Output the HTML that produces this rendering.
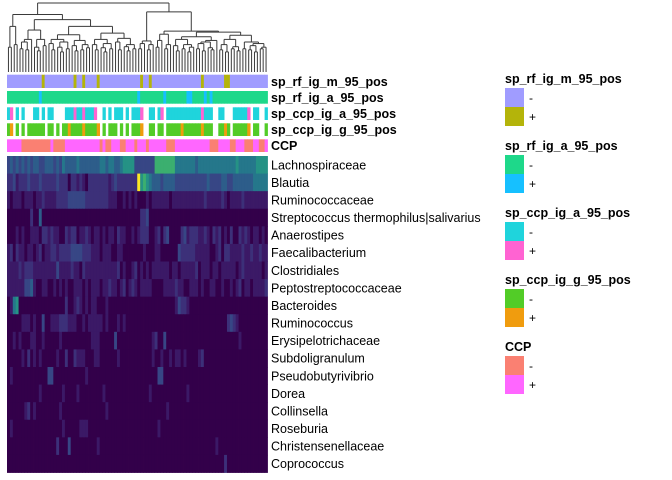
<!DOCTYPE html>
<html><head><meta charset="utf-8"><style>
body{margin:0;background:#fff;}
svg{display:block;font-family:"Liberation Sans",sans-serif;}
</style></head><body>
<svg id="c" width="672" height="480"></svg>
<script>
const rowNames=["Lachnospiraceae","Blautia","Ruminococcaceae","Streptococcus thermophilus|salivarius","Anaerostipes","Faecalibacterium","Clostridiales","Peptostreptococcaceae","Bacteroides","Ruminococcus","Erysipelotrichaceae","Subdoligranulum","Pseudobutyrivibrio","Dorea","Collinsella","Roseburia","Christensenellaceae","Coprococcus"];
const rowValues=[
"3434343434"+"4334443435"+"4444544444"+"4455455445"+"6666333333"+"3777777755"+"5555545555"+"5555555556"+"5555556666",
"2231222322"+"2322222322"+"2022121022"+"2222212322"+"2222296765"+"4443444433"+"3333333334"+"3333443344"+"4444455555",
"1011101110"+"1121111222"+"2333333222"+"2222211100"+"1010100010"+"1111110111"+"1111111121"+"1111210111"+"1211111111",
"0000000020"+"0400000000"+"0000000000"+"0000000000"+"0000002230"+"0000000000"+"0000000000"+"0000000000"+"0000000000",
"0001010011"+"1022121100"+"2122011210"+"1101011021"+"1001012220"+"0120230000"+"2312221121"+"0212010200"+"2121011010",
"1202110110"+"1201122122"+"2233332221"+"1101110011"+"0000000100"+"0110000003"+"2222211111"+"0012022111"+"1211211211",
"1111212221"+"1111111311"+"1121102111"+"1111111120"+"1001201010"+"1111110110"+"1111120111"+"0110111110"+"1211111101",
"1111113341"+"0011001010"+"1001110101"+"1101121101"+"2012101111"+"0000111121"+"1001110100"+"1100100101"+"2011011112",
"0156000000"+"0000000000"+"2001210101"+"1000100000"+"0000000000"+"0000000013"+"2210000000"+"0000000000"+"0000000000",
"0000011101"+"0030011122"+"2111001011"+"1110100010"+"1000000000"+"0000000000"+"0000000000"+"0000002321"+"0000000000",
"0010100011"+"0010000010"+"0000000001"+"1100000300"+"0000000000"+"1200300000"+"0000000000"+"0000000000"+"1000000000",
"0000010201"+"0100000100"+"2002111000"+"1100000010"+"0000000000"+"1001001011"+"0100001200"+"0000000000"+"0000000000",
"0100000000"+"0000330000"+"0000000100"+"0000000000"+"0000000000"+"0033000000"+"0000000000"+"0000000000"+"0000000000",
"0000000000"+"0100000001"+"0000100000"+"0001000000"+"0000000001"+"0000000000"+"0010000000"+"0000000000"+"0000000000",
"0000001201"+"0000000010"+"0000000000"+"0000100000"+"0000000000"+"0000010000"+"0000000000"+"0000000000"+"0000000000",
"0100000000"+"0000000001"+"0000011100"+"0000000000"+"0000000000"+"0010000000"+"0000000000"+"0000000000"+"0000000000",
"0000000000"+"0000000200"+"0300000000"+"0100000000"+"0000000000"+"0000000000"+"0000000000"+"0010000000"+"0000000000",
"0000000000"+"0000000000"+"0000000000"+"0000000000"+"0000000000"+"0000000000"+"0000000000"+"0000020000"+"0000000000"
];
const annoNames=["sp_rf_ig_m_95_pos","sp_rf_ig_a_95_pos","sp_ccp_ig_a_95_pos","sp_ccp_ig_g_95_pos","CCP"];
const annoM="----------"+"--+-------"+"---+--+---"+"-+--------"+"------+--+"+"----------"+"-------+--"+"-----++---"+"----------";
const annoA="----------"+"-+--------"+"----------"+"----------"+"-----+----"+"----+-----"+"--++----+-"+"+---------"+"----------";
const annoCA="-+ - -   -"+"- - --    "+"---+--+---"+"+  - - ---"+" - ---+  -"+"- -+ -----"+"-------+--"+"-  --   --"+"---+ --  -";
const annoCG="-+ - - ---"+"--- -- - -"+"-+----+---"+"-+ - --- -"+" - ---+  -"+"- -- -----"+"+------+--"+"-  --+- --"+"---+ --  -";
const annoCCP="+++++-----"+"-----+----"+"++++++++++"+"++-+--+++-"+"-+++-+++-+"+"+++++---++"+"++++++++++"+"---++++--+"+"++---++--+";
const legendTitles=annoNames;
const legendLevels=["-","+"];
const annoColors=[["#a09cff","#b4b40a"],["#1ed88a","#16c0ff"],["#1fd4dc","#ff63d2"],["#52cc27","#f09c0e"],["#fa8072","#ff66ff"]];
const gaps=[0.15,0.55,0.2,0.78,0.12,0.25,0.1,0.3,0.48,0.15,0.08,0.3,0.18,0.68,0.22,0.1,0.3,0.15,0.06,0.25,0.12,0.39,0.18,0.08,0.28,0.1,0.2,0.14,0.55,0.2,0.1,0.3,0.14,0.06,0.22,0.12,0.42,0.25,0.1,0.32,0.16,0.08,0.2,0.12,1.0,0.12,0.22,0.27,0.1,0.2,0.83,0.15,0.28,0.4,0.12,0.2,0.46,0.18,0.08,0.3,0.12,0.2,0.06,0.15,0.35,0.12,0.22,0.08,0.25,0.14,0.1,0.28,0.44,0.1,0.2,0.06,0.3,0.12,0.16,0.08,0.38,0.12,0.25,0.1,0.18,0.06,0.22,0.12,0.15];

const NS="http://www.w3.org/2000/svg";
const svg=document.getElementById('c');
const N=90, X0=7, X1=267.5, cw=(X1-X0)/N;
const HY0=156, HY1=472.5, rh=(HY1-HY0)/rowNames.length;
const xs=i=>X0+i*cw;
const stops=[[0,"#33004a"],[0.15,"#3e2270"],[0.3,"#3a3f83"],[0.45,"#2d5e8a"],[0.6,"#22818c"],[0.72,"#27a07f"],[0.85,"#55c15a"],[1,"#fde725"]];
function hex(h){return [1,3,5].map(i=>parseInt(h.substr(i,2),16));}
function col(v){for(let i=1;i<stops.length;i++){if(v<=stops[i][0]){const a=stops[i-1],b=stops[i];const t=(v-a[0])/(b[0]-a[0]);const ca=hex(a[1]),cb=hex(b[1]);return "rgb("+ca.map((c,k)=>Math.round(c+(cb[k]-c)*t)).join(",")+")";}}return stops[stops.length-1][1];}
function mk(tag,attrs,parent){const e=document.createElementNS(NS,tag);for(const k in attrs)e.setAttribute(k,attrs[k]);(parent||svg).appendChild(e);return e;}

const hm=mk('g',{});


rowValues.forEach((s,r)=>{
  for(let i=0;i<N;i++){
    const v=parseInt(s[i])/9;
    const e=mk('rect',{x:xs(i),y:HY0+r*rh,width:cw+0.4,height:rh+0.4,fill:col(v)},hm);
    
    
  }
  const t=mk('text',{x:271,y:HY0+(r+0.5)*rh+4.5,'font-size':12.5,fill:'#000'});
  t.textContent=rowNames[r];
  
  
});

const annoStr=[annoM,annoA,annoCA,annoCG,annoCCP];
const annoY=[[74.7,88],[91,103.7],[107.3,120],[123.3,136],[139.3,152]];
annoStr.forEach((s,a)=>{
  const g=mk('g',{});
  
  
  for(let i=0;i<N;i++){
    const ch=s[i];if(ch===' '||ch===undefined)continue;
    const e=mk('rect',{x:xs(i),y:annoY[a][0],width:cw+0.4,height:annoY[a][1]-annoY[a][0],fill:annoColors[a][ch==='+'?1:0]},g);
    
    
  }
  const t=mk('text',{x:271,y:(annoY[a][0]+annoY[a][1])/2+4.5,'font-size':12.5,'font-weight':'bold'});
  t.textContent=annoNames[a];
  
  
});

const dg=mk('g',{stroke:'#3a3a3a','stroke-width':1,fill:'none'});


const yh=h=>h===0?72:55-h*52;
function line(x1,y1,x2,y2){const e=mk('line',{x1,y1,x2,y2},dg);}
function node(lo,hi){
  if(lo===hi)return {x:xs(lo)+cw/2,h:0};
  let k=lo;for(let i=lo;i<hi;i++)if(gaps[i]>gaps[k])k=i;
  const l=node(lo,k),r=node(k+1,hi),h=gaps[k];
  line(l.x,yh(l.h),l.x,yh(h));line(r.x,yh(r.h),r.x,yh(h));line(l.x,yh(h),r.x,yh(h));
  return {x:(l.x+r.x)/2,h};
}
node(0,N-1);

legendTitles.forEach((tt,g)=>{
  const lg=mk('g',{});
  
  
  const base=67*g;
  const t=mk('text',{x:505,y:83+base,'font-size':12.5,'font-weight':'bold'},lg);
  t.textContent=tt;
  
  
  legendLevels.forEach((lv,j)=>{
    const r=mk('rect',{x:505,y:88+base+j*19,width:19,height:19,fill:annoColors[g][j]},lg);
    
    
    const tx=mk('text',{x:529,y:102+base+j*19,'font-size':12},lg);
    tx.textContent=lv;
    
    
  });
});
</script>
</body></html>
